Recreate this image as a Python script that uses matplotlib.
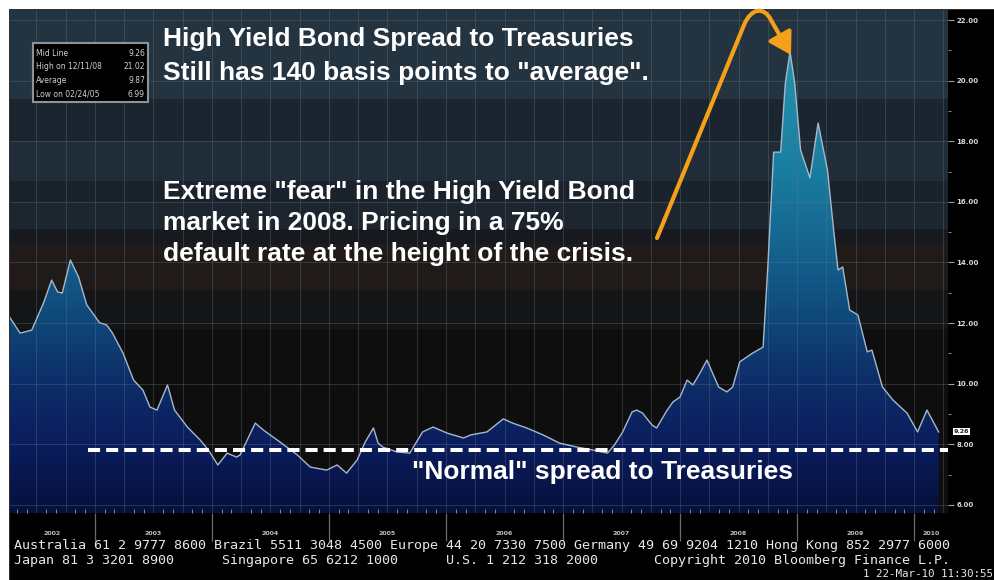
import numpy as np
import matplotlib
matplotlib.use('Agg')
import matplotlib.pyplot as plt
from matplotlib.colors import LinearSegmentedColormap, Normalize
from matplotlib.patches import FancyArrowPatch, Rectangle, ArrowStyle
from matplotlib.path import Path
from matplotlib.transforms import Affine2D
import matplotlib.ticker as mticker

W, H = 995, 580

# spread High Yield vs Treasuries (%)
anni = [2002.27, 2002.36, 2002.46, 2002.56, 2002.63, 2002.68, 2002.72, 2002.79, 2002.86, 2002.93,
        2003.04, 2003.10, 2003.15, 2003.24, 2003.33, 2003.41, 2003.47, 2003.53, 2003.62, 2003.68,
        2003.79, 2003.90, 2003.97,
        2004.05, 2004.13, 2004.21, 2004.24, 2004.37, 2004.44, 2004.58, 2004.73, 2004.84, 2004.98,
        2005.07, 2005.15, 2005.24, 2005.31, 2005.38, 2005.42, 2005.46, 2005.58, 2005.69, 2005.80,
        2005.89,
        2006.01, 2006.15, 2006.21, 2006.35, 2006.49, 2006.57, 2006.69, 2006.83, 2006.97,
        2007.12, 2007.26, 2007.38, 2007.44, 2007.51, 2007.59, 2007.63, 2007.68, 2007.76, 2007.80,
        2007.89, 2007.94,
        2008.00, 2008.06, 2008.11, 2008.17, 2008.23, 2008.33, 2008.40, 2008.45, 2008.51, 2008.62,
        2008.71, 2008.75, 2008.80, 2008.86, 2008.90, 2008.94, 2008.98,
        2009.03, 2009.11, 2009.18, 2009.26, 2009.31, 2009.35, 2009.39, 2009.45, 2009.52, 2009.60,
        2009.64, 2009.73, 2009.82, 2009.94,
        2010.03, 2010.11, 2010.21]
spread = [12.20, 11.67, 11.77, 12.66, 13.42, 13.03, 12.99, 14.08, 13.52, 12.60,
          12.01, 11.94, 11.67, 11.01, 10.12, 9.79, 9.23, 9.13, 9.96, 9.13,
          8.57, 8.14, 7.81,
          7.32, 7.71, 7.58, 7.65, 8.70, 8.47, 8.08, 7.65, 7.25, 7.15,
          7.32, 7.05, 7.48, 8.08, 8.54, 8.04, 7.91, 7.75, 7.71, 8.41,
          8.57,
          8.37, 8.21, 8.31, 8.41, 8.84, 8.70, 8.54, 8.31, 8.04,
          7.91, 7.81, 7.71, 7.98, 8.41, 9.07, 9.13, 9.03, 8.64, 8.54,
          9.13, 9.40,
          9.56, 10.12, 9.96, 10.35, 10.78, 9.89, 9.73, 9.89, 10.72, 11.01,
          11.21, 13.85, 17.64, 17.64, 19.92, 20.95, 19.92,
          17.71, 16.79, 18.60, 17.05, 15.17, 13.75, 13.85, 12.43, 12.27, 11.05,
          11.11, 9.89, 9.46, 9.03,
          8.41, 9.13, 8.41]

# legenda in alto a sinistra
leg_nomi = ['Mid Line', 'High on 12/11/08', 'Average', 'Low on 02/24/05']
leg_valori = [9.26, 21.02, 9.87, 6.99]
ultimo = 9.26

# linea "normale" tracciata a mano
normale = 7.8
normale_inizio = 2002.94

anni_etichette = [2002, 2003, 2004, 2005, 2006, 2007, 2008, 2009, 2010]
y_ticks = [6, 8, 10, 12, 14, 16, 18, 20, 22]

x_lim = (2002.274, 2010.29)
y_lim = (5.735, 22.33)

fig = plt.figure(figsize=(W / 100, H / 100), dpi=100, facecolor='black')
px = Affine2D().scale(1 / W, -1 / H).translate(0, 1) + fig.transFigure

# bordo bianco sopra e a sinistra
fig.patches.append(Rectangle((0, 0), W, 8, transform=px, color='white'))
fig.patches.append(Rectangle((0, 0), 8, H, transform=px, color='white'))

ax = fig.add_axes([10 / W, 1 - 513 / H, 938 / W, 503 / H])
ax.set_facecolor('#0e0e0f')

# fasce di sfondo
fasce = [(19.4, 22.4, '#233340'), (18.0, 19.4, '#1a2530'), (16.7, 18.0, '#202c37'),
         (16.0, 16.7, '#1a222b'), (15.1, 16.0, '#1d262f'), (14.6, 15.1, '#16191d'),
         (13.1, 14.6, '#201b19'), (11.8, 13.1, '#141516')]
for lo, hi, c in fasce:
    ax.axhspan(lo, hi, color=c, zorder=0, lw=0)

# area con gradiente
stops = [(5.7, '#06103c'), (8, '#0b1d5e'), (10, '#0d2d68'), (12, '#0f4678'),
         (14, '#135e8b'), (17, '#1a7d9f'), (21, '#2693b0'), (22.4, '#2893b0')]
vmin, vmax = stops[0][0], stops[-1][0]
cmap = LinearSegmentedColormap.from_list(
    'hy', [((v - vmin) / (vmax - vmin), c) for v, c in stops])
poly = ax.fill_between(anni, spread, y_lim[0], facecolor='none', edgecolor='none')
grad = np.linspace(y_lim[0], y_lim[1], 300).reshape(-1, 1)
im = ax.imshow(grad, extent=[anni[0], anni[-1], y_lim[0], y_lim[1]], origin='lower',
               aspect='auto', cmap=cmap, norm=Normalize(vmin, vmax), zorder=1)
im.set_clip_path(poly.get_paths()[0], transform=ax.transData)

ax.plot(anni, spread, color='#a5b8cc', lw=1.0, zorder=3)
ax.plot([normale_inizio, x_lim[1]], [normale, normale], color='white', lw=2.9,
        dashes=(3.0, 1.5), solid_capstyle='butt', dash_capstyle='butt', zorder=4)

ax.set_xlim(x_lim)
ax.set_ylim(y_lim)

# griglia
ax.set_axisbelow(False)
ax.yaxis.tick_right()
ax.set_yticks(y_ticks)
ax.yaxis.set_minor_locator(mticker.MultipleLocator(1))
ax.yaxis.set_major_formatter(mticker.FormatStrFormatter('%.2f'))
ax.tick_params(axis='y', which='major', length=4, color='#a0a0a0', labelsize=5,
               labelcolor='#d8d8d8', pad=2)
ax.tick_params(axis='y', which='minor', length=2, color='#a0a0a0')
for t in ax.get_yticklabels():
    t.set_fontweight('bold')
ax.xaxis.set_major_locator(mticker.MultipleLocator(0.25))
ax.xaxis.set_minor_locator(mticker.MultipleLocator(1 / 12))
ax.xaxis.set_major_formatter(mticker.NullFormatter())
ax.tick_params(axis='x', which='major', length=0)
ax.tick_params(axis='x', which='minor', direction='in', length=3, color='#9a9a9a')
ax.grid(axis='both', which='major', color='#6a7682', lw=0.6, alpha=0.4)
for s in ax.spines.values():
    s.set_visible(False)

# separatori e etichette anni
xt = ax.get_xaxis_transform()
ax.vlines(anni_etichette[1:], 0, -0.055, transform=xt, color='#6a6a6a', lw=0.9, clip_on=False)
for a in anni_etichette:
    c = (max(a, x_lim[0]) + min(a + 1, x_lim[1])) / 2
    ax.text(c, -0.04, str(a), transform=xt, ha='center', va='center', fontsize=4.5,
            fontweight='bold', color='#c0c0c0')

# ultimo valore
ax.text(1.006, spread[-1], f'{ultimo:.2f}', transform=ax.get_yaxis_transform(),
        ha='left', va='center', fontsize=4.5, fontweight='bold', color='#202020',
        bbox=dict(boxstyle='square,pad=0.15', fc='white', ec='none'), zorder=6, clip_on=False)

# legenda
fig.patches.append(Rectangle((33, 43), 115, 59, transform=px, fc='black', ec='#8d939a', lw=1.5))
for i, (n, v) in enumerate(zip(leg_nomi, leg_valori)):
    yy = 53 + i * 13.7
    fig.text(36, yy, n, transform=px, fontsize=5.5, color='#d0d0d0', va='center', ha='left')
    fig.text(145, yy, f'{v:.2f}', transform=px, fontsize=5.5, color='#d0d0d0', va='center', ha='right')

# testi
font = dict(family='Liberation Sans', fontweight='bold', color='white', fontsize=19, transform=px)
fig.text(163, 46, 'High Yield Bond Spread to Treasuries', va='baseline', **font)
fig.text(163, 80, 'Still has 140 basis points to "average".', va='baseline', **font)
fig.text(163, 199, 'Extreme "fear" in the High Yield Bond', va='baseline', **font)
fig.text(163, 230, 'market in 2008. Pricing in a 75%', va='baseline', **font)
fig.text(163, 261, 'default rate at the height of the crisis.', va='baseline', **font)
fig.text(412, 479, '"Normal" spread to Treasuries', va='baseline', **font)

# freccia arancione
verts = [(657, 238), (744, 25), (751, 8), (764, 6), (771, 20), (791, 55)]
codes = [Path.MOVETO, Path.LINETO, Path.CURVE4, Path.CURVE4, Path.CURVE4, Path.LINETO]
freccia = FancyArrowPatch(path=Path(verts, codes), transform=px,
                          arrowstyle=ArrowStyle('-|>', head_length=1.0, head_width=0.6),
                          mutation_scale=13, lw=3, color='#f5a01a')
fig.patches.append(freccia)

# piede Bloomberg
mono = dict(family='DejaVu Sans Mono', fontsize=9.6, color='#e8e8e8', transform=px, va='center')
fig.text(14, 545, 'Australia 61 2 9777 8600 Brazil 5511 3048 4500 Europe 44 20 7330 7500 '
         'Germany 49 69 9204 1210 Hong Kong 852 2977 6000', ha='left', **mono)
fig.text(14, 560.5, 'Japan 81 3 3201 8900      Singapore 65 6212 1000      U.S. 1 212 318 2000'
         '       Copyright 2010 Bloomberg Finance L.P.', ha='left', **mono)
mono['fontsize'] = 7.8
fig.text(993, 574, '1 22-Mar-10 11:30:55', ha='right', **mono)

plt.savefig('out.png', dpi=100, facecolor=fig.get_facecolor())
